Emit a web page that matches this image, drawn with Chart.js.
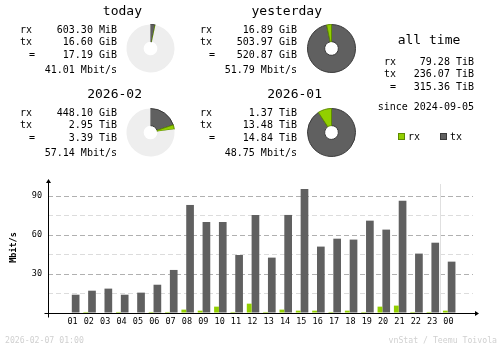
<!DOCTYPE html>
<html>
<head>
<meta charset="utf-8">
<script src="https://cdn.jsdelivr.net/npm/chart.js@4/dist/chart.umd.min.js"></script>
<style>
html, body { margin: 0; padding: 0; background: #fff; }
#page { position: relative; width: 500px; height: 348px; overflow: hidden; font-family: "DejaVu Sans Mono", monospace; color: #000; }
.t { position: absolute; white-space: pre; }
canvas { position: absolute; }
.sq { position: absolute; width: 5px; height: 5px; }
</style>
</head>
<body>
<div id="page"><canvas id="hours" width="500" height="348" style="left:0;top:0"></canvas></div>
<script>
// hourly traffic, Mbit/s
const hourLabels = ['01', '02', '03', '04', '05', '06', '07', '08', '09', '10', '11', '12',
                    '13', '14', '15', '16', '17', '18', '19', '20', '21', '22', '23', '00'];
const hourRx = [0, 0.8, 0, 0.8, 0, 0.8, 0.8, 2.6, 1.8, 4.9, 0.8, 7.2,
                0.8, 2.6, 1.8, 1.8, 0.8, 1.8, 0.8, 4.9, 5.7, 0.8, 0.8, 1.8];
const hourTx = [14.1, 17.2, 18.8, 14.1, 15.7, 21.8, 33.2, 83.3, 70.2, 70.2, 44.7, 75.6,
                42.7, 75.6, 95.6, 51.2, 57.3, 56.6, 71.2, 64.3, 86.6, 45.8, 54.2, 39.6];
const yLabelValues = [30, 60, 90];

// summary blocks
const periodTitles = ['today', 'yesterday', '2026-02', '2026-01'];
const periodRx = ['603.30 MiB', '16.89 GiB', '448.10 GiB', '1.37 TiB'];
const periodTx = ['16.60 GiB', '503.97 GiB', '2.95 TiB', '13.48 TiB'];
const periodTotal = ['17.19 GiB', '520.87 GiB', '3.39 TiB', '14.84 TiB'];
const periodRate = ['41.01 Mbit/s', '51.79 Mbit/s', '57.14 Mbit/s', '48.75 Mbit/s'];
// pie slices in GiB: tx, rx, and the part of the previous period not yet reached
const pieTx = [16.60, 503.97, 3020.8, 13803.5];
const pieRx = [0.589, 16.89, 448.10, 1402.9];
const pieRest = [503.68, 0, 11724.8, 0];

const allTimeRx = '79.28 TiB';
const allTimeTx = '236.07 TiB';
const allTimeTotal = '315.36 TiB';
const allTimeSince = 'since 2024-09-05';
const stampText = '2026-02-07 01:00';
const creditText = 'vnStat / Teemu Toivola';

const RX = '#92cf00', TX = '#606060';
const RX_EDGE = '#5e8a00', TX_EDGE = '#3a3a3a';

const page = document.getElementById('page');

const put = (text, x, cy, o = {}) => {
    const d = document.createElement('div');
    const size = o.size || 10, lh = Math.round(size * 1.4);
    d.className = 't';
    d.textContent = text;
    d.style.fontSize = size + 'px';
    d.style.lineHeight = lh + 'px';
    d.style.top = (cy - lh / 2) + 'px';
    if (o.align === 'right') d.style.right = (500 - x) + 'px';
    else if (o.align === 'center') { d.style.left = (x - 100) + 'px'; d.style.width = '200px'; d.style.textAlign = 'center'; }
    else d.style.left = x + 'px';
    if (o.color) d.style.color = o.color;
    page.appendChild(d);
};

const pie = (i, cx, cy) => {
    const c = document.createElement('canvas');
    c.width = 57; c.height = 57;
    c.style.left = (cx - 28) + 'px';
    c.style.top = (cy - 28) + 'px';
    page.appendChild(c);
    new Chart(c, {
        type: 'doughnut',
        data: {
            datasets: [{
                data: [pieTx[i], pieRx[i], pieRest[i]],
                backgroundColor: [TX, RX, '#eeeeee'],
                borderColor: [TX_EDGE, RX_EDGE, '#eeeeee'],
                borderWidth: [1, 1, 0]
            }]
        },
        options: {
            responsive: false, animation: false, events: [], devicePixelRatio: 1,
            radius: 24, cutout: 8,
            layout: { padding: 0 },
            plugins: { legend: { display: false }, tooltip: { enabled: false } }
        }
    });
};

// four period blocks
const blockPos = [[0, 0], [180, 0], [0, 83], [180, 83]];
periodTitles.forEach((title, i) => {
    const [dx, dy] = blockPos[i];
    put(title, 142 + dx, 11 + dy, { align: 'right', size: 13 });
    put('rx', 20 + dx, 29.5 + dy);
    put(periodRx[i], 117 + dx, 29.5 + dy, { align: 'right' });
    put('tx', 20 + dx, 41.5 + dy);
    put(periodTx[i], 117 + dx, 41.5 + dy, { align: 'right' });
    put('=', 29 + dx, 54.5 + dy);
    put(periodTotal[i], 117 + dx, 54.5 + dy, { align: 'right' });
    put(periodRate[i], 117 + dx, 69.5 + dy, { align: 'right' });
    pie(i, 150 + dx + (dx ? 1 : 0), 48 + dy + (dy ? 1 : 0));
});

// all time block
put('all time', 429, 40, { align: 'center', size: 13 });
put('rx', 384, 61.5);
put(allTimeRx, 474, 61.5, { align: 'right' });
put('tx', 384, 74);
put(allTimeTx, 474, 74, { align: 'right' });
put('=', 390, 87);
put(allTimeTotal, 474, 87, { align: 'right' });
put(allTimeSince, 474, 107, { align: 'right' });

// legend
[[398, RX, RX_EDGE, 'rx'], [440, TX, TX_EDGE, 'tx']].forEach(([x, fill, edge, label]) => {
    const s = document.createElement('div');
    s.className = 'sq';
    s.style.left = x + 'px'; s.style.top = '133px';
    s.style.background = fill; s.style.border = '1px solid ' + edge;
    page.appendChild(s);
    put(label, x + 10, 136.5);
});

put(stampText, 5, 340, { size: 8.2, color: '#d0d0d0' });
put(creditText, 497, 340, { size: 8.2, color: '#d0d0d0', align: 'right' });

// axes with arrows and the day separator
const vnAxes = {
    id: 'vnAxes',
    beforeDatasetsDraw(chart) {
        const { ctx, chartArea: a, scales: { x } } = chart;
        const sx = Math.floor(x.getPixelForValue(23.5)) + 0.5;
        ctx.save();
        ctx.strokeStyle = '#e0e0e0';
        ctx.lineWidth = 1;
        ctx.beginPath(); ctx.moveTo(sx, a.top + 2); ctx.lineTo(sx, a.bottom); ctx.stroke();
        ctx.restore();
    },
    afterDatasetsDraw(chart) {
        const { ctx, chartArea: a } = chart;
        const ax = a.left + 0.5, ay = a.bottom + 0.5;
        ctx.save();
        ctx.strokeStyle = '#000'; ctx.fillStyle = '#000'; ctx.lineWidth = 1;
        ctx.beginPath();
        ctx.moveTo(ax, a.top - 1); ctx.lineTo(ax, ay + 4);
        ctx.moveTo(ax - 4, ay); ctx.lineTo(a.right + 3, ay);
        ctx.stroke();
        ctx.beginPath();
        ctx.moveTo(ax, a.top - 3); ctx.lineTo(ax - 2.5, a.top + 1); ctx.lineTo(ax + 2.5, a.top + 1);
        ctx.closePath(); ctx.fill();
        ctx.beginPath();
        ctx.moveTo(a.right + 6, ay); ctx.lineTo(a.right + 2, ay - 2.5); ctx.lineTo(a.right + 2, ay + 2.5);
        ctx.closePath(); ctx.fill();
        ctx.restore();
    }
};

const tickFont = { family: '"DejaVu Sans Mono", monospace', size: 8.5 };

new Chart(document.getElementById('hours'), {
    type: 'bar',
    data: {
        datasets: [
            { label: 'rx', data: hourRx.map((v, i) => ({ x: i + 1, y: v })), backgroundColor: RX,
              categoryPercentage: 13 / 17, barPercentage: 5 / 6.5 },
            { label: 'tx', data: hourTx.map((v, i) => ({ x: i + 1, y: v })), backgroundColor: TX,
              categoryPercentage: 13 / 17, barPercentage: 8 / 6.5 }
        ]
    },
    options: {
        responsive: false, animation: false, events: [], devicePixelRatio: 1,
        layout: { padding: { left: 8, right: 27, top: 182, bottom: 0 } },
        plugins: { legend: { display: false }, tooltip: { enabled: false } },
        scales: {
            x: {
                type: 'linear', min: 0, max: 25,
                afterFit: s => { s.height = 35; },
                grid: { display: false, drawTicks: false },
                border: { display: false },
                ticks: { stepSize: 1, autoSkip: false, maxRotation: 0, includeBounds: false, padding: 4,
                         color: '#000', font: tickFont, callback: v => hourLabels[v - 1] || '' }
            },
            y: {
                min: 0, max: 101,
                afterFit: s => { s.width = 40; },
                grid: {
                    drawTicks: false, lineWidth: 1,
                    color: c => c.tick.value === 0 || c.tick.value > 90 ? 'rgba(0,0,0,0)'
                        : (c.tick.value % 30 === 0 ? '#b0b0b0' : '#dcdcdc')
                },
                border: { display: false, dash: [5, 3] },
                ticks: { stepSize: 15, includeBounds: false, padding: 6, color: '#000', font: tickFont,
                         callback: v => yLabelValues.includes(v) ? String(v) : '' },
                title: { display: true, text: 'Mbit/s', color: '#000', padding: { top: 1, bottom: 0 },
                         font: { family: '"DejaVu Sans Mono", monospace', size: 8.5, weight: 'bold' } }
            }
        }
    },
    plugins: [vnAxes]
});
</script>
</body>
</html>
